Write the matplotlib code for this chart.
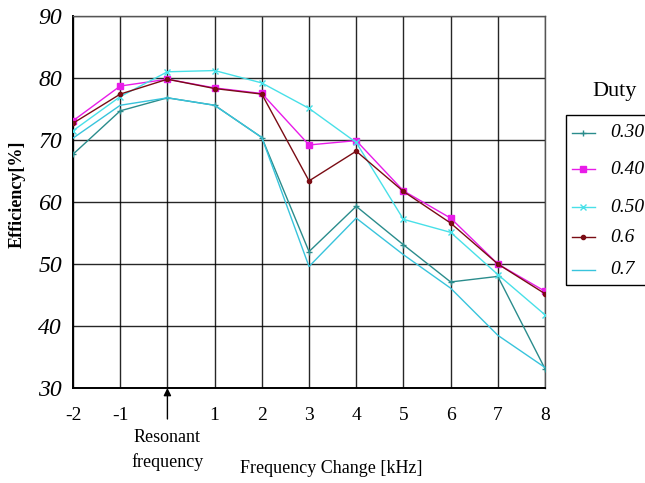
import matplotlib
matplotlib.use("Agg")
import matplotlib.pyplot as plt
from matplotlib.patches import Rectangle
from matplotlib.lines import Line2D

plt.rcParams["font.family"] = ["Liberation Serif", "DejaVu Serif"]

# frequency change [kHz]
freq = [-2, -1, 0, 1, 2, 3, 4, 5, 6, 7, 8]
x_tick_labels = ["-2", "-1", "", "1", "2", "3", "4", "5", "6", "7", "8"]
y_ticks = [30, 40, 50, 60, 70, 80, 90]

duty_labels = ["0.30", "0.40", "0.50", "0.6", "0.7"]
eff_030 = [67.7, 74.7, 76.8, 75.6, 70.4, 52.0, 59.3, 53.1, 47.1, 48.0, 33.1]
eff_040 = [73.1, 78.7, 79.8, 78.4, 77.5, 69.2, 69.9, 61.8, 57.4, 50.0, 45.6]
eff_050 = [71.5, 77.0, 81.0, 81.2, 79.2, 75.1, 69.6, 57.2, 55.1, 48.3, 41.8]
eff_060 = [72.7, 77.4, 79.8, 78.3, 77.4, 63.4, 68.2, 61.7, 56.6, 50.0, 45.2]
eff_070 = [70.3, 75.6, 76.8, 75.6, 70.4, 49.6, 57.4, 51.5, 46.1, 38.5, 33.3]

series = [eff_030, eff_040, eff_050, eff_060, eff_070]
colors = ["#2a8c8c", "#e81ce8", "#48e0e8", "#7a0c14", "#38c4dc"]
markers = ["+", "s", "x", "o", None]
marker_sizes = [5, 4, 4, 3, 0]

figure = plt.figure(figsize=(6.45, 4.83), dpi=100)
axis = figure.add_axes([0.1132, 0.1967, 0.7318, 0.7702])

for values, color, marker, msize in zip(series, colors, markers, marker_sizes):
    axis.plot(freq, values, color=color, linewidth=1.0, marker=marker,
              markersize=msize, markeredgewidth=1.0, zorder=3)

axis.set_xlim(-2, 8)
axis.set_ylim(30, 90)
axis.set_xticks(freq)
axis.set_xticklabels(x_tick_labels, fontsize=14)
axis.set_yticks(y_ticks)
axis.set_yticklabels([str(v) for v in y_ticks], fontsize=17, style="italic")
axis.tick_params(length=0, pad=8)
axis.tick_params(axis="x", pad=14)
axis.grid(True, color="black", linewidth=1.0, alpha=0.85)
for name, spine in axis.spines.items():
    spine.set_color("#555555" if name in ("top", "right") else "black")
    spine.set_linewidth(1.0 if name in ("top", "right") else 1.4)

axis.set_ylabel("Efficiency[%]", fontsize=13, fontweight="bold")
axis.yaxis.set_label_coords(-0.1, 0.52)
figure.text(0.513, 0.031, "Frequency Change [kHz]", fontsize=13,
            ha="center", va="center")

# resonant frequency marker
axis.annotate("", xy=(0, 30), xycoords="data", xytext=(0, 25.0),
              textcoords="data", annotation_clip=False,
              arrowprops=dict(arrowstyle="-|>", color="black", lw=1.0,
                              mutation_scale=11, shrinkA=0, shrinkB=0))
axis.text(0, 23.4, "Resonant\nfrequency", ha="center", va="top",
          fontsize=13, linespacing=1.55, clip_on=False)

# legend drawn as figure box (extends past right edge)
figure.text(0.953, 0.81, "Duty", fontsize=16, ha="center", va="center")
figure.patches.append(Rectangle((0.8775, 0.41), 0.3, 0.352, transform=figure.transFigure,
                                fill=False, edgecolor="black", linewidth=1.0))
legend_y = [0.725, 0.65, 0.571, 0.509, 0.441]
for label, color, marker, msize, ly in zip(duty_labels, colors, markers,
                                           marker_sizes, legend_y):
    figure.lines.append(Line2D([0.887, 0.922], [ly, ly], transform=figure.transFigure,
                               color=color, linewidth=1.0))
    if marker:
        figure.lines.append(Line2D([0.9045], [ly], transform=figure.transFigure,
                                   color=color, marker=marker, markersize=msize,
                                   markeredgewidth=1.0))
    figure.text(0.946, ly, label, fontsize=14, style="italic", va="center")

figure.savefig("out.png", dpi=100)
plt.close(figure)
